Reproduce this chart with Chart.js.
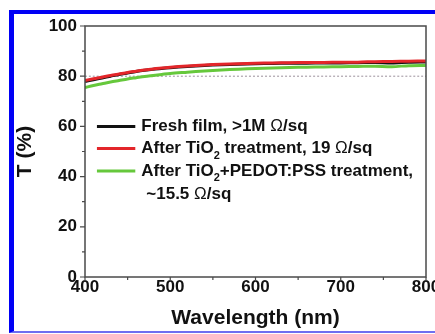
<!DOCTYPE html>
<html>
<head>
<meta charset="utf-8">
<script src="https://cdn.jsdelivr.net/npm/chart.js@4.4.1/dist/chart.umd.min.js"></script>
<style>
  html, body { margin: 0; padding: 0; background: #fff; }
  #wrap { position: relative; width: 435px; height: 334px; overflow: hidden; }
  #frame { position: absolute; left: 9px; top: 10px; width: 430px; height: 317px;
           border-top: 4px solid #0000f5; border-left: 5px solid #0000f5; border-bottom: 2px solid #6f6ff0; }
  #c { position: absolute; left: 0; top: 0; }
</style>
</head>
<body>
<div id="wrap">
  <div id="frame"></div>
  <canvas id="c" width="435" height="334"></canvas>
</div>
<script>
// wavelengths (nm) and transmittance (%)
const wavelength = [400, 410, 420, 430, 440, 450, 460, 470, 480, 490, 500, 520, 540, 560, 580, 600, 620, 640, 660, 680, 700, 720, 740, 760, 780, 800];
const freshFilm = [77.9, 78.6, 79.3, 80.0, 80.7, 81.3, 81.9, 82.4, 82.8, 83.1, 83.4, 83.9, 84.3, 84.6, 84.8, 85.0, 85.1, 85.2, 85.2, 85.3, 85.3, 85.4, 85.5, 85.3, 85.6, 85.7];
const afterTiO2 = [78.3, 79.0, 79.6, 80.3, 80.9, 81.5, 82.0, 82.5, 82.9, 83.3, 83.6, 84.1, 84.5, 84.8, 85.0, 85.2, 85.3, 85.4, 85.5, 85.5, 85.6, 85.6, 85.8, 85.9, 86.0, 86.1];
const afterPedot = [75.5, 76.3, 77.0, 77.7, 78.3, 78.9, 79.4, 79.9, 80.3, 80.7, 81.1, 81.6, 82.1, 82.5, 82.8, 83.1, 83.3, 83.5, 83.6, 83.7, 83.8, 83.9, 84.0, 83.8, 84.2, 84.3];
const refLevel = 80;
const xTicks = [400, 500, 600, 700, 800];
const yTicks = [0, 20, 40, 60, 80, 100];

const FONT = "'Liberation Sans', Arial, sans-serif";

function pts(ys) {
    return wavelength.map((w, i) => ({ x: w, y: ys[i] }));
}

// legend rows: colour + text pieces (sub = subscript)
const legendRows = [
    { color: '#111111', parts: [{ t: 'Fresh film, >1M ' }, { t: 'Ω', light: true }, { t: '/sq' }] },
    { color: '#e3262a', parts: [{ t: 'After TiO' }, { t: '2', sub: true }, { t: ' treatment, 19 ' }, { t: 'Ω', light: true }, { t: '/sq' }] },
    { color: '#66c83c', parts: [{ t: 'After TiO' }, { t: '2', sub: true }, { t: '+PEDOT:PSS treatment,' }] },
    { color: null, parts: [{ t: '~15.5 ' }, { t: 'Ω', light: true }, { t: '/sq' }] }
];

const framePlugin = {
    id: 'frame',
    afterDatasetsDraw(chart) {
        const ctx = chart.ctx;
        const a = chart.chartArea;
        const xs = chart.scales.x, ys = chart.scales.y;
        ctx.save();
        ctx.strokeStyle = '#4a4a4a';
        ctx.lineWidth = 1.5;
        ctx.strokeRect(a.left, a.top, a.right - a.left, a.bottom - a.top);
        ctx.lineWidth = 1.2;
        ctx.beginPath();
        for (let v = 0; v <= 100; v += 10) {
            const p = ys.getPixelForValue(v);
            const len = v % 20 === 0 ? 5 : 3;
            ctx.moveTo(a.left, p);
            ctx.lineTo(a.left - len, p);
        }
        for (let v = 400; v <= 800; v += 50) {
            const p = xs.getPixelForValue(v);
            const len = v % 100 === 0 ? 4 : 3;
            ctx.moveTo(p, a.bottom);
            ctx.lineTo(p, a.bottom + len);
        }
        ctx.stroke();

        // legend
        const lx0 = xs.getPixelForValue(414);
        const lx1 = xs.getPixelForValue(459);
        const rowVals = [60, 51.2, 42.2, 32.8];
        legendRows.forEach((row, i) => {
            const y = ys.getPixelForValue(rowVals[i]);
            if (row.color) {
                ctx.strokeStyle = row.color;
                ctx.lineWidth = 3;
                ctx.beginPath();
                ctx.moveTo(lx0, y);
                ctx.lineTo(lx1, y);
                ctx.stroke();
            }
            let x = row.color ? lx1 + 6 : lx1 + 11;
            ctx.fillStyle = '#111';
            ctx.textBaseline = 'middle';
            row.parts.forEach(p => {
                if (p.sub) {
                    ctx.font = 'bold 11px ' + FONT;
                    ctx.fillText(p.t, x, y + 7);
                } else {
                    ctx.font = (p.light ? '' : 'bold ') + '17px ' + FONT;
                    ctx.fillText(p.t, x, y);
                }
                x += ctx.measureText(p.t).width;
            });
        });
        ctx.restore();
    }
};

const ctx = document.getElementById('c');
new Chart(ctx, {
    type: 'line',
    data: {
        datasets: [
            { label: 'Fresh film', data: pts(freshFilm), borderColor: '#111111', borderWidth: 3, order: 2 },
            { label: 'After TiO2', data: pts(afterTiO2), borderColor: '#e3262a', borderWidth: 3, order: 1 },
            { label: 'After TiO2+PEDOT:PSS', data: pts(afterPedot), borderColor: '#66c83c', borderWidth: 3, order: 3 },
            { label: 'ref', data: [{ x: 400, y: refLevel }, { x: 800, y: refLevel }], borderColor: '#9a8f9a',
              borderWidth: 1, borderDash: [2, 2], order: 4 }
        ]
    },
    options: {
        responsive: false,
        animation: false,
        events: [],
        elements: { point: { radius: 0 }, line: { tension: 0.3, fill: false } },
        layout: { padding: { left: 0, right: 9, top: 26, bottom: 0 } },
        plugins: { legend: { display: false }, tooltip: { enabled: false } },
        scales: {
            x: {
                type: 'linear', min: 400, max: 800,
                grid: { display: false, drawTicks: false },
                border: { display: false },
                afterBuildTicks: s => { s.ticks = xTicks.map(v => ({ value: v })); },
                afterFit: s => { s.height = 57; s.paddingLeft = 0; s.paddingRight = 0; },
                ticks: { autoSkip: false, maxRotation: 0, padding: 0, color: '#111',
                         font: { family: FONT, size: 17, weight: 'bold' } },
                title: { display: true, text: 'Wavelength (nm)', color: '#111',
                         font: { family: FONT, size: 21, weight: 'bold' }, padding: { top: 0, bottom: 3 } }
            },
            y: {
                min: 0, max: 100,
                grid: { display: false, drawTicks: false },
                border: { display: false },
                afterBuildTicks: s => { s.ticks = yTicks.map(v => ({ value: v })); },
                afterFit: s => { s.width = 85; },
                ticks: { autoSkip: false, padding: 8, color: '#111',
                         font: { family: FONT, size: 17, weight: 'bold' } },
                title: { display: true, text: 'T (%)', color: '#111',
                         font: { family: FONT, size: 21, weight: 'bold' }, padding: { top: 13, bottom: 0 } }
            }
        }
    },
    plugins: [framePlugin]
});
</script>
</body>
</html>
